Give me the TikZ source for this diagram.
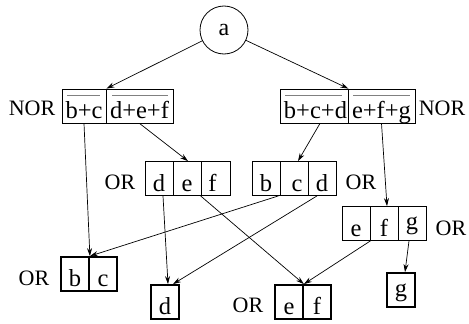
\documentclass[tikz,border=0pt]{standalone}
\usepackage{fontspec}
\setmainfont{Liberation Serif}
\usetikzlibrary{arrows.meta}
\begin{document}
\begin{tikzpicture}[x=1pt,y=-1pt,
  every node/.style={font=\fontsize{22}{26}\selectfont},
  cell/.style={draw,line width=0.8pt,inner sep=0pt,minimum height=34pt,text height=29.5pt,text depth=4.5pt,font=\fontsize{24.5}{28}\selectfont},
  gcell/.style={text height=23pt,text depth=11pt},
  tcell/.style={cell,line width=1.8pt,minimum width=28pt},
  lab/.style={inner sep=0pt},
  arr/.style={line width=0.7pt,-{Stealth[length=8pt,width=5pt]}},
  ov/.style={draw=gray,line width=1pt}]
\useasboundingbox (0,0) rectangle (469,324);
\node[draw,circle,line width=0.8pt,minimum size=48pt,inner sep=0pt,font=\fontsize{24}{26}\selectfont] (a) at (224,30) {a};
% NOR boxes
\node[cell,minimum width=44pt] (n1) at (84,106) {b+c};
\node[cell,minimum width=67pt] (n2) at (139.5,106) {d+e+f};
\node[cell,minimum width=68pt] (n3) at (314,106) {\hspace*{3pt}b+c+d};
\node[cell,minimum width=67pt] (n4) at (381.5,106) {e+f+g};
\draw[ov] (67,95) -- (100,95);
\draw[ov] (112,95) -- (168,95);
\draw[ov] (285,95) -- (342,95);
\draw[ov] (353,95) -- (410,95);
\node[lab] (lnor1) at (32,108) {NOR};
\node[lab] (lnor2) at (442,108) {NOR};
% OR d e f
\node[cell,minimum width=28pt] (d1) at (159,178.5) {d};
\node[cell,minimum width=28pt] (e1) at (187,178.5) {e};
\node[cell,minimum width=29pt] (f1) at (215.5,178.5) {f\hspace*{6pt}};
\node[lab] (lor1) at (120,182) {OR};
% b c d
\node[cell,minimum width=28pt] (b2) at (266,178.5) {b};
\node[cell,minimum width=28pt] (c2) at (294,178.5) {\hspace*{6pt}c};
\node[cell,minimum width=28pt] (d2) at (322,178.5) {d};
\node[lab] (lor2) at (361,182) {OR};
% e f g
\node[cell,minimum width=28pt] (e3) at (356,223.5) {e};
\node[cell,minimum width=28pt] (f3) at (384,223.5) {f};
\node[cell,gcell,minimum width=28pt] (g3) at (412,223.5) {g};
\node[lab] (lor3) at (451,228) {OR};
% thick leaves
\node[tcell] (b4) at (75,274) {b};
\node[tcell] (c4) at (103,274) {c};
\node[lab] (lor4) at (34,278) {OR};
\node[tcell] (d5) at (165,302) {d};
\node[tcell] (e6) at (289,302) {e};
\node[tcell] (f6) at (317,302) {f};
\node[lab] (lor6) at (248,305) {OR};
\node[tcell,gcell] (g7) at (401,290) {g};
% arrows
\draw[arr] (a) -- (n1.north east);
\draw[arr] (a) -- (n3.north east);
\draw[arr] (n1.south) -- (b4.north east);
\draw[arr] (n2.south) -- ([xshift=1pt]e1.north);
\draw[arr] ([xshift=6pt]n3.south) -- ([xshift=4pt]c2.north);
\draw[arr] (n4.south) -- ([xshift=3pt]f3.north);
\draw[arr] ([xshift=4pt]d1.south) -- ([xshift=3pt]d5.north);
\draw[arr] (f1.south west) -- (e6.north east);
\draw[arr] ([xshift=-2pt]b2.south east) -- (b4.north east);
\draw[arr] ([xshift=-5pt]d2.south) -- ([xshift=8pt]d5.north);
\draw[arr] (e3.south east) -- (e6.north east);
\draw[arr] ([xshift=-3pt]g3.south) -- ([xshift=4pt]g7.north);
\end{tikzpicture}
\end{document}
